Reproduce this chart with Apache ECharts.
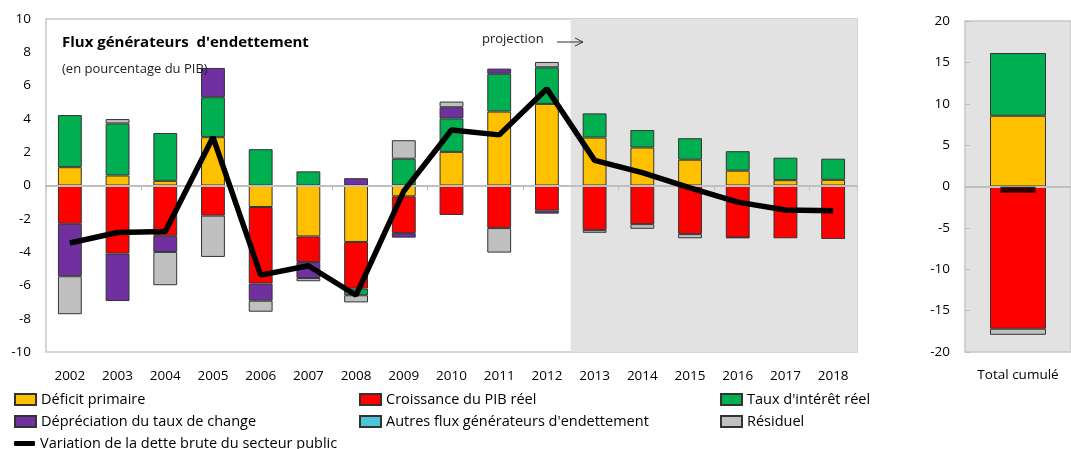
<!DOCTYPE html>
<html><head><meta charset="utf-8">
<script src="https://cdn.jsdelivr.net/npm/echarts@6/dist/echarts.min.js"></script>
<style>html,body{margin:0;padding:0;background:#fff}#c{width:1071px;height:449px}</style>
</head><body><div id="c"></div>
<script>
const years = ['2002','2003','2004','2005','2006','2007','2008','2009','2010','2011','2012','2013','2014','2015','2016','2017','2018'];
const deficit = [1.1, 0.6, 0.28, 2.9, -1.29, -3.06, -3.39, -0.65, 2.02, 4.44, 4.9, 2.88, 2.28, 1.55, 0.89, 0.32, 0.34];
const growth = [-2.3, -4.09, -3.02, -1.81, -4.6, -1.54, -2.8, -2.21, -1.77, -2.56, -1.51, -2.68, -2.32, -2.92, -3.12, -3.17, -3.21];
const interest = [3.13, 3.13, 2.87, 2.4, 2.18, 0.85, -0.4, 1.61, 2.01, 2.27, 2.2, 1.45, 1.05, 1.29, 1.17, 1.35, 1.27];
const depreciation = [-3.15, -2.85, -0.97, 1.76, -1.03, -0.96, 0.44, -0.27, 0.67, 0.31, -0.18, null, null, null, null, null, null];
const otherFlows = [null, null, null, null, null, null, null, null, null, null, null, null, null, null, null, null, null];
const residual = [-2.28, 0.26, -2.0, -2.48, -0.66, -0.19, -0.43, 1.11, 0.34, -1.47, 0.32, -0.16, -0.28, -0.25, -0.03, null, null];
const debtChange = [-3.45, -2.82, -2.76, 2.9, -5.38, -4.82, -6.59, -0.34, 3.33, 3.04, 5.81, 1.51, 0.77, -0.14, -1.0, -1.47, -1.51];
const projectionStart = '2013';

const totalCat = ['Total cumulé'];
const totalDeficit = [8.55];
const totalGrowth = [-17.19];
const totalInterest = [7.58];
const totalDepreciation = [null];
const totalOther = [null];
const totalResidual = [-0.73];
const totalDebtChange = [-0.4];

const yTicksLeft = {min: -10, max: 10, interval: 2};
const yTicksRight = {min: -20, max: 20, interval: 5};

const FONT = 'Open Sans';
const C = {def:'#FFC000', gro:'#FF0000', int:'#00B050', dep:'#7030A0', oth:'#4BC5DA', res:'#C0C0C0'};
const border = {borderColor:'#333', borderWidth:1};
const N = {def:'Déficit primaire', gro:'Croissance du PIB réel', int:"Taux d'intérêt réel", dep:'Dépréciation du taux de change', oth:"Autres flux générateurs d'endettement", res:'Résiduel', line:'Variation de la dette brute du secteur public'};

function bars(name, color, data, xi, yi, stack, bw) {
  return {name, type:'bar', stack, xAxisIndex:xi, yAxisIndex:yi, data, barWidth:bw,
    itemStyle:Object.assign({color}, border), z:3, emphasis:{disabled:true}};
}

const chart = echarts.init(document.getElementById('c'), null, {renderer:'canvas'});
const legendCommon = {orient:'vertical', top:386, itemWidth:21, itemHeight:11, itemGap:5, height:80, icon:'rect',
  textStyle:{fontFamily:FONT, fontSize:14.5, color:'#000', lineHeight:17}, selectedMode:false};
const projIdx = years.indexOf(projectionStart);

chart.setOption({
  animation:false,
  textStyle:{fontFamily:FONT},
  grid:[
    {left:46, top:19, right:214, bottom:97, show:true, borderColor:'#c8c8c8', borderWidth:1.5, backgroundColor:'#fff'},
    {left:965, top:21, width:116, bottom:97, show:true, borderColor:'#c8c8c8', borderWidth:1.5, backgroundColor:'#e2e2e2'}
  ],
  xAxis:[
    {type:'category', gridIndex:0, data:years, axisLine:{show:false, onZero:false}, axisTick:{show:false},
      axisLabel:{fontFamily:FONT, fontSize:13.5, color:'#000', margin:17}},
    {type:'category', gridIndex:0, data:years, z:5, axisLine:{show:true, onZero:true, lineStyle:{color:'#bfbfbf', width:2}},
      axisTick:{show:true, inside:true, interval:1, length:5, lineStyle:{color:'#bfbfbf'}}, axisLabel:{show:false}},
    {type:'value', gridIndex:0, min:0, max:years.length, show:false},
    {type:'category', gridIndex:1, data:totalCat, axisLine:{show:false, onZero:false}, axisTick:{show:false},
      axisLabel:{fontFamily:FONT, fontSize:13.5, color:'#000', margin:16}},
    {type:'category', gridIndex:1, data:totalCat, z:5, axisLine:{show:true, onZero:true, lineStyle:{color:'#bfbfbf', width:2}},
      axisTick:{show:false}, axisLabel:{show:false}}
  ],
  yAxis:[
    Object.assign({type:'value', gridIndex:0, axisLine:{show:false}, axisTick:{show:false}, splitLine:{show:false},
      axisLabel:{fontFamily:FONT, fontSize:13.5, color:'#000', margin:15}}, yTicksLeft),
    {type:'value', gridIndex:0, min:0, max:1, show:false},
    Object.assign({type:'value', gridIndex:1, axisLine:{show:false}, splitLine:{show:false},
      axisTick:{show:true, inside:true, length:5, lineStyle:{color:'#bdbdbd'}},
      axisLabel:{fontFamily:FONT, fontSize:13.5, color:'#000', margin:15}}, yTicksRight)
  ],
  legend:[
    Object.assign({}, legendCommon, {left:9, data:[N.def, N.dep]}),
    Object.assign({}, legendCommon, {left:354, data:[N.gro, N.oth]}),
    Object.assign({}, legendCommon, {left:715, data:[N.int, N.res]}),
    Object.assign({}, legendCommon, {left:9, top:430, itemHeight:5, icon:'roundRect', data:[N.line]})
  ],
  graphic:[
    {type:'text', left:62, top:35, z:100, style:{text:"Flux générateurs  d'endettement", font:'bold 15px "Open Sans"', fill:'#000'}},
    {type:'text', left:62, top:63, z:100, style:{text:'(en pourcentage du PIB)', font:'13px "Open Sans"', fill:'#222'}},
    {type:'text', left:482, top:33, z:100, style:{text:'projection', font:'13px "Open Sans"', fill:'#222'}},
    {type:'polyline', z:100, shape:{points:[[557,42],[583,42]]}, style:{stroke:'#333', lineWidth:1}},
    {type:'polyline', z:100, shape:{points:[[575,38],[583,42],[575,46]]}, style:{stroke:'#333', lineWidth:1, fill:null}}
  ],
  series:[
    {name:'proj', type:'line', xAxisIndex:2, yAxisIndex:1, data:[], z:1, silent:true,
      markArea:{silent:true, itemStyle:{color:'#e2e2e2'},
        data:[[{xAxis:projIdx, yAxis:0}, {xAxis:years.length, yAxis:1}]]}},
    bars(N.def, C.def, deficit, 0, 0, 'a', '50%'),
    bars(N.gro, C.gro, growth, 0, 0, 'a', '50%'),
    bars(N.int, C.int, interest, 0, 0, 'a', '50%'),
    bars(N.dep, C.dep, depreciation, 0, 0, 'a', '50%'),
    bars(N.oth, C.oth, otherFlows, 0, 0, 'a', '50%'),
    bars(N.res, C.res, residual, 0, 0, 'a', '50%'),
    {name:N.line, type:'line', xAxisIndex:0, yAxisIndex:0, data:debtChange, symbol:'none', z:10,
      lineStyle:{color:'#000', width:5.5}, itemStyle:{color:'#000'}},
    bars(N.def, C.def, totalDeficit, 3, 2, 'b', 56),
    bars(N.gro, C.gro, totalGrowth, 3, 2, 'b', 56),
    bars(N.int, C.int, totalInterest, 3, 2, 'b', 56),
    bars(N.dep, C.dep, totalDepreciation, 3, 2, 'b', 56),
    bars(N.oth, C.oth, totalOther, 3, 2, 'b', 56),
    bars(N.res, C.res, totalResidual, 3, 2, 'b', 56),
    {name:'total change', type:'scatter', xAxisIndex:3, yAxisIndex:2, data:totalDebtChange, symbol:'rect',
      symbolSize:[35,6], z:10, itemStyle:{color:'#000'}}
  ]
});
</script></body></html>
